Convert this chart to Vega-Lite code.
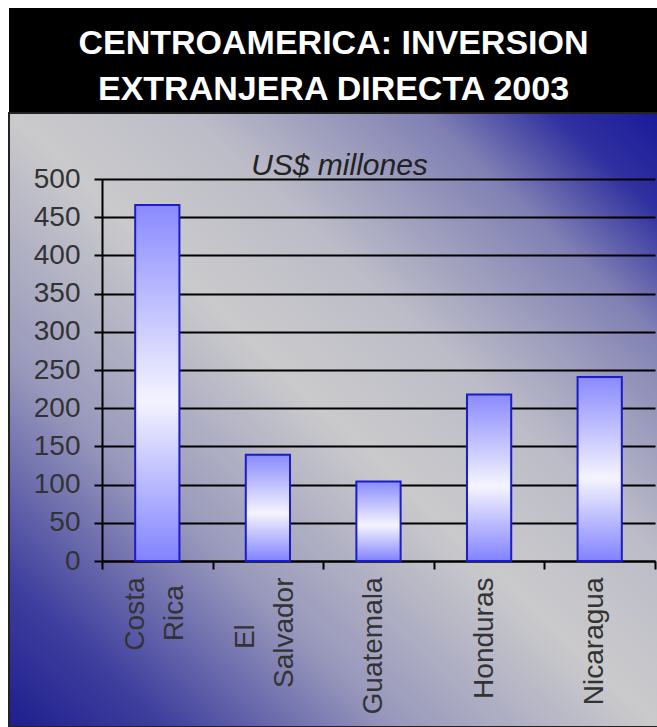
{
  "$schema": "https://vega.github.io/schema/vega-lite/v6.json",
  "background": "white",
  "padding": {"left": -6, "top": 8, "right": 0, "bottom": 0},
  "spacing": 0,
  "bounds": "flush",
  "config": {"font": "Liberation Sans", "view": {"stroke": null}},
  "datasets": {
    "fdi": [
      {"country": "Costa Rica", "value": 466},
      {"country": "El Salvador", "value": 139},
      {"country": "Guatemala", "value": 104},
      {"country": "Honduras", "value": 218},
      {"country": "Nicaragua", "value": 241}
    ],
    "header": [{"title": "CENTROAMERICA: INVERSION\nEXTRANJERA DIRECTA 2003"}],
    "note": [{"label": "US$ millones", "value": 500}]
  },
  "vconcat": [
    {
      "width": 649,
      "height": 105,
      "view": {"fill": "black", "stroke": null},
      "data": {"name": "header"},
      "mark": {
        "type": "text",
        "lineBreak": "\n",
        "color": "white",
        "font": "Liberation Sans",
        "fontWeight": "bold",
        "fontSize": 34,
        "lineHeight": 46,
        "baseline": "middle",
        "align": "center",
        "dy": -17
      },
      "encoding": {"text": {"field": "title", "type": "nominal"}}
    },
    {
      "width": 649,
      "height": 614,
      "view": {
        "fill": {
          "gradient": "linear",
          "x1": 0, "y1": 1, "x2": 1, "y2": 0,
          "stops": [
            {"offset": 0, "color": "#1e1e8e"},
            {"offset": 0.12, "color": "#3e3e9e"},
            {"offset": 0.3, "color": "#9898bc"},
            {"offset": 0.5, "color": "#cacacc"},
            {"offset": 0.64, "color": "#bcbcc8"},
            {"offset": 0.82, "color": "#8080b4"},
            {"offset": 0.92, "color": "#3030a0"},
            {"offset": 1, "color": "#1a1a9a"}
          ]
        },
        "stroke": "#222222",
        "strokeWidth": 2
      },
      "layer": [
        {
          "data": {"name": "fdi"},
          "mark": {
            "type": "bar",
            "width": {"band": 0.4},
            "fill": {
              "gradient": "linear",
              "x1": 0, "y1": 0, "x2": 0, "y2": 1,
              "stops": [
                {"offset": 0, "color": "#8a8aff"},
                {"offset": 0.55, "color": "#f4f4ff"},
                {"offset": 1, "color": "#8282ff"}
              ]
            },
            "stroke": "#1c1cc8",
            "strokeWidth": 2
          },
          "encoding": {
            "x": {
              "field": "country",
              "type": "nominal",
              "sort": null,
              "scale": {"range": [93, 646], "paddingInner": 0, "paddingOuter": 0},
              "axis": {
                "title": null,
                "orient": "bottom",
                "offset": -166,
                "domainColor": "black",
                "domainWidth": 2,
                "tickColor": "black",
                "tickWidth": 2,
                "tickSize": 8,
                "tickBand": "extent",
                "labelAngle": -90,
                "labelAlign": "right",
                "labelBaseline": "middle",
                "labelFont": "Liberation Sans",
                "labelFontSize": 28,
                "labelColor": "#333333",
                "labelPadding": 8,
                "labelLineHeight": 39,
                "labelOverlap": false,
                "labelOffset": {
                  "condition": {"test": "datum.value == 'Costa Rica' || datum.value == 'El Salvador'", "value": -22},
                  "value": -5
                },
                "labelExpr": "datum.label == 'Costa Rica' ? ['Costa', 'Rica\u00a0\u200b'] : datum.label == 'El Salvador' ? ['El\u00a0\u00a0\u00a0\u00a0\u00a0\u00a0\u200b', 'Salvador'] : datum.label",
                "grid": false
              }
            },
            "y": {
              "field": "value",
              "type": "quantitative",
              "scale": {"domain": [0, 500], "range": [448, 66], "nice": false},
              "axis": {
                "title": null,
                "orient": "left",
                "offset": -93,
                "values": [0, 50, 100, 150, 200, 250, 300, 350, 400, 450, 500],
                "domainColor": "black",
                "domainWidth": 2,
                "tickColor": "black",
                "tickWidth": 2,
                "tickSize": 8,
                "labelFont": "Liberation Sans",
                "labelFontSize": 28,
                "labelColor": "#333333",
                "labelPadding": 14,
                "grid": true,
                "gridColor": "black",
                "gridWidth": 2,
                "gridOpacity": 1
              }
            }
          }
        },
        {
          "data": {"name": "note"},
          "mark": {
            "type": "text",
            "fontStyle": "italic",
            "fontSize": 30,
            "color": "#222222",
            "baseline": "alphabetic",
            "align": "center",
            "dy": -4,
            "dx": 6
          },
          "encoding": {
            "text": {"field": "label", "type": "nominal"},
            "y": {"field": "value", "type": "quantitative"}
          }
        }
      ]
    }
  ]
}
